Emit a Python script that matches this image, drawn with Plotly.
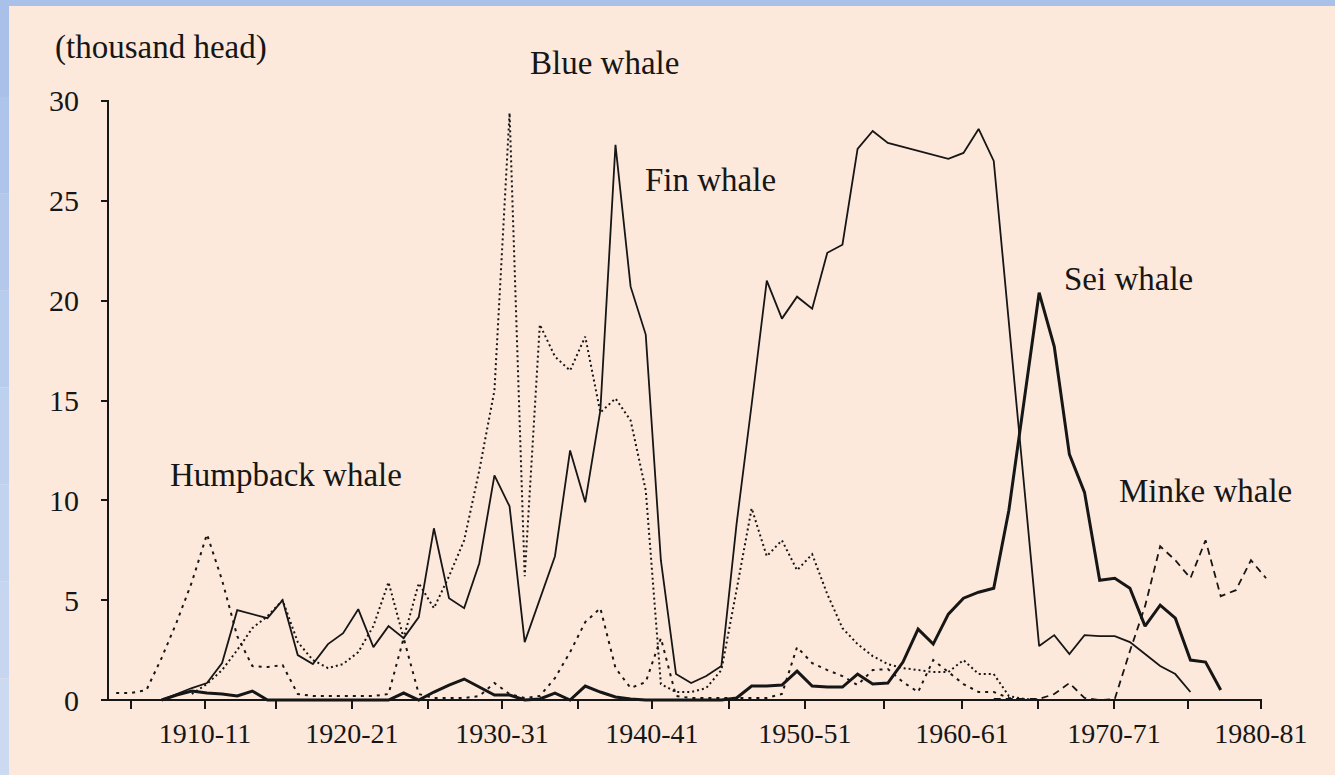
import plotly.graph_objects as go

# ---------------- data (thousand head) ----------------
fin_years = list(range(1907, 1976))
fin_vals = [0, 0.3, 0.6, 0.85, 1.85, 4.5, 4.3, 4.1, 5.0, 2.25,
            1.8, 2.8, 3.35, 4.55, 2.65, 3.7, 3.1, 4.15, 8.6, 5.1,
            4.6, 6.85, 11.25, 9.7, 2.9, 5.1, 7.2, 12.5, 9.9, 14.5,
            27.8, 20.7, 18.3, 7.0, 1.3, 0.85, 1.2, 1.7, 8.8, 14.8,
            21.0, 19.1, 20.2, 19.6, 22.4, 22.8, 27.6, 28.5, 27.9, 27.7,
            27.5, 27.3, 27.1, 27.4, 28.6, 27.0, 19.0, 11.0, 2.7, 3.25,
            2.3, 3.25, 3.2, 3.2, 2.9, 2.3, 1.7, 1.3, 0.4]

sei_years = list(range(1907, 1978))
sei_vals = [0, 0.25, 0.45, 0.35, 0.3, 0.2, 0.45, 0, 0, 0,
            0, 0, 0, 0, 0, 0, 0.35, 0, 0.4, 0.75,
            1.05, 0.65, 0.25, 0.25, 0, 0.05, 0.35, 0, 0.7, 0.4,
            0.15, 0.05, 0, 0, 0, 0, 0, 0, 0.1, 0.7,
            0.7, 0.75, 1.45, 0.7, 0.65, 0.65, 1.3, 0.8, 0.85, 1.9,
            3.55, 2.8, 4.3, 5.1, 5.4, 5.6, 9.5, 15.0, 20.4, 17.7,
            12.3, 10.4, 6.0, 6.1, 5.6, 3.7, 4.75, 4.1, 2.0, 1.9,
            0.5]

blue_years = list(range(1909, 1966))
blue_vals = [0.3, 0.8, 1.5, 2.5, 3.6, 4.2, 5.0, 2.9, 2.0, 1.6,
             1.8, 2.4, 3.7, 5.9, 3.1, 5.85, 4.6, 6.2, 8.0, 11.5,
             15.5, 29.4, 6.2, 18.8, 17.2, 16.5, 18.2, 14.4, 15.1, 14.0,
             10.5, 0.8, 0.4, 0.4, 0.6, 1.5, 5.5, 9.6, 7.2, 8.0,
             6.5, 7.3, 5.3, 3.6, 2.8, 2.2, 1.8, 1.6, 1.5, 1.4,
             1.4, 2.0, 1.3, 1.3, 0.2, 0.05, 0]

hump_years = list(range(1904, 1965))
hump_vals = [0.35, 0.35, 0.5, 2.1, 3.9, 5.9, 8.3, 6.0, 3.2, 1.7,
             1.65, 1.75, 0.3, 0.2, 0.2, 0.2, 0.2, 0.2, 0.3, 3.1,
             0.3, 0.1, 0.1, 0.1, 0.2, 0.85, 0.3, 0.1, 0.2, 1.1,
             2.4, 3.9, 4.6, 1.6, 0.6, 0.9, 3.1, 0.2, 0.1, 0.1,
             0.1, 0.1, 0.1, 0.1, 0.3, 2.65, 1.85, 1.5, 1.2, 0.75,
             1.5, 1.55, 0.9, 0.4, 2.0, 1.4, 0.8, 0.4, 0.4, 0.1,
             0]

minke_years = list(range(1962, 1981))
minke_vals = [0.05, 0.05, 0.05, 0.05, 0.3, 0.85, 0.1, 0.0, 0.05, 2.45,
              4.7, 7.7, 7.0, 6.1, 8.0, 5.2, 5.5, 7.0, 6.1]

y_ticks = [0, 5, 10, 15, 20, 25, 30]
x_tick_pos = [1905.0, 1909.87, 1914.56, 1919.58, 1924.61, 1929.5, 1934.52, 1939.41,
              1944.5, 1949.52, 1954.74, 1959.9, 1964.92, 1969.95, 1974.84, 1979.66]
x_tick_text = ["", "1910-11", "", "1920-21", "", "1930-31", "", "1940-41",
               "", "1950-51", "", "1960-61", "", "1970-71", "", "1980-81"]

labels = ["(thousand head)", "Blue whale", "Fin whale", "Sei whale",
          "Humpback whale", "Minke whale"]

# ---------------- geometry ----------------
W, H = 1335, 775
L, R, T, B = 108, 1267, 91, 706
X0, X1 = 1903.46, 1980.06
Y0, Y1 = -0.30, 30.5

def fx(p):
    return (p - L) / (R - L)

def fy(p):
    return (B - p) / (B - T)

INK = "#161616"
BG = "#FDE9DC"
FONT = "Liberation Serif"

fig = go.Figure()

def add(xs, ys, width, dash):
    fig.add_trace(go.Scatter(x=xs, y=ys, mode="lines",
                             line=dict(color=INK, width=width, dash=dash),
                             hoverinfo="skip"))

add(hump_years, hump_vals, 2.0, "3px,5px")
add(blue_years, blue_vals, 2.0, "2px,3px")
add(minke_years, minke_vals, 1.8, "7px,5px")
add(fin_years, fin_vals, 1.8, "solid")
add(sei_years, sei_vals, 3.0, "solid")

shapes = []
# blue frame on top and left
shapes.append(dict(type="rect", xref="paper", yref="paper",
                   x0=fx(0), x1=fx(W), y0=fy(6), y1=fy(0),
                   fillcolor="#A9C0E9", line=dict(width=0), layer="below"))
band_cols = ["#A9C0E9", "#AEC4EA", "#B3C8EB", "#B8CCED", "#BDD0EE", "#C2D3EF", "#C7D6F0", "#CBD9F1"]
n = len(band_cols)
for i, c in enumerate(band_cols):
    shapes.append(dict(type="rect", xref="paper", yref="paper",
                       x0=fx(0), x1=fx(9), y0=fy(H * (i + 1) / n), y1=fy(H * i / n),
                       fillcolor=c, line=dict(width=0), layer="below"))
# axis lines
shapes.append(dict(type="line", xref="paper", yref="paper",
                   x0=fx(105), x1=fx(1262), y0=fy(700), y1=fy(700),
                   line=dict(color=INK, width=2)))
shapes.append(dict(type="line", xref="paper", yref="paper",
                   x0=fx(108), x1=fx(108), y0=fy(701), y1=fy(100),
                   line=dict(color=INK, width=2)))

label_pos = [(53, 47), (528, 63), (643, 180), (1062, 279), (168, 475), (1117, 491)]
annotations = []
for text, (lx, ly) in zip(labels, label_pos):
    annotations.append(dict(text=text, xref="paper", yref="paper",
                            x=fx(lx), y=fy(ly), xanchor="left", yanchor="middle",
                            showarrow=False, font=dict(family=FONT, size=33, color=INK)))

fig.update_layout(
    width=W, height=H,
    margin=dict(l=L, r=W - R, t=T, b=H - B),
    paper_bgcolor=BG, plot_bgcolor=BG,
    showlegend=False,
    shapes=shapes,
    annotations=annotations,
    xaxis=dict(range=[X0, X1], showgrid=False, zeroline=False, showline=False,
               anchor="free", position=(0 - Y0) / (Y1 - Y0),
               tickmode="array", tickvals=x_tick_pos, ticktext=x_tick_text,
               ticks="outside", ticklen=8, tickwidth=2, tickcolor=INK,
               tickfont=dict(family=FONT, size=28, color=INK)),
    yaxis=dict(range=[Y0, Y1], showgrid=False, zeroline=False, showline=False,
               tickmode="array", tickvals=y_ticks,
               ticks="outside", ticklen=6, tickwidth=2, tickcolor=INK,
               ticklabelstandoff=16,
               tickfont=dict(family=FONT, size=30, color=INK)),
)

fig.write_html(
    "out.html",
    config={"displayModeBar": False},
    post_script="document.body.style.margin='0';document.body.style.overflow='hidden';"
                "document.body.style.background='#FDE9DC';",
)
